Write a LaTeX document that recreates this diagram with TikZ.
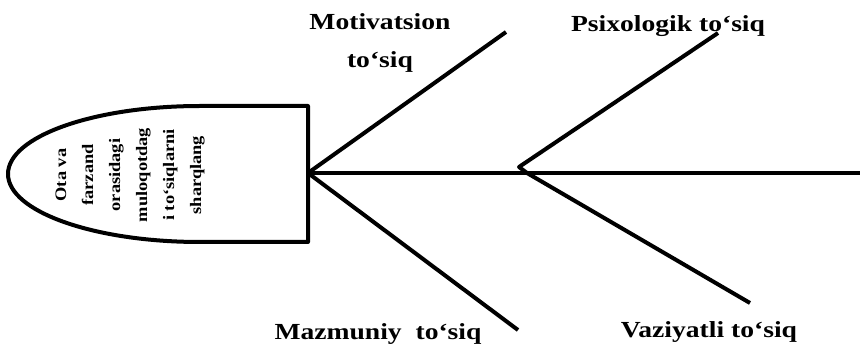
\documentclass[tikz,border=0pt]{standalone}
\usepackage{fontspec}
\setmainfont{Liberation Serif}
\newfontfamily\lblfont[FakeStretch=1.2]{Liberation Serif}
\newfontfamily\headfont[FakeStretch=1.15]{Liberation Serif}
\usepackage{xcolor}

\begin{document}
\begin{tikzpicture}[x=1pt, y=-1pt,
  bone/.style={line width=4pt, draw=black, line join=round},
  lbl/.style={font=\lblfont\fontsize{23}{38}\selectfont\bfseries, align=center, inner sep=0pt, anchor=base},
  headtxt/.style={font=\headfont\fontsize{16}{27}\selectfont\bfseries, align=center, inner sep=0pt, rotate=90}
]
\useasboundingbox (0,0) rectangle (860,347);
\draw[bone] (308,106) -- (200,106) arc[start angle=90, end angle=270, x radius=192pt, y radius=68pt] -- (308,242) -- cycle;
\node[headtxt] (head) at (130,175) {Ota va\\farzand\\orasidagi\\muloqotdag\\i to‘siqlarni\\sharqlang};
\coordinate (j0) at (308,173);
\coordinate (j1) at (527,173);
\coordinate (pv) at (519,167);
\coordinate (tail) at (860,173);
\coordinate (m) at (506,32);
\coordinate (p) at (718,33);
\coordinate (z) at (518,330);
\coordinate (v) at (750,303);
\node[lbl] (lm) at (380,68) {Motivatsion\\to‘siq};
\node[lbl] (lp) at (668,32) {Psixologik to‘siq};
\node[lbl] (lz) at (378,340) {Mazmuniy\ \ to‘siq};
\node[lbl] (lv) at (709,338) {Vaziyatli to‘siq};
\draw[bone] (j0) -- (tail);
\draw[bone] (j0) -- (m);
\draw[bone] (j0) -- (z);
\draw[bone] (j1) -- (pv) -- (p);
\draw[bone] (j1) -- (v);
\end{tikzpicture}
\end{document}
